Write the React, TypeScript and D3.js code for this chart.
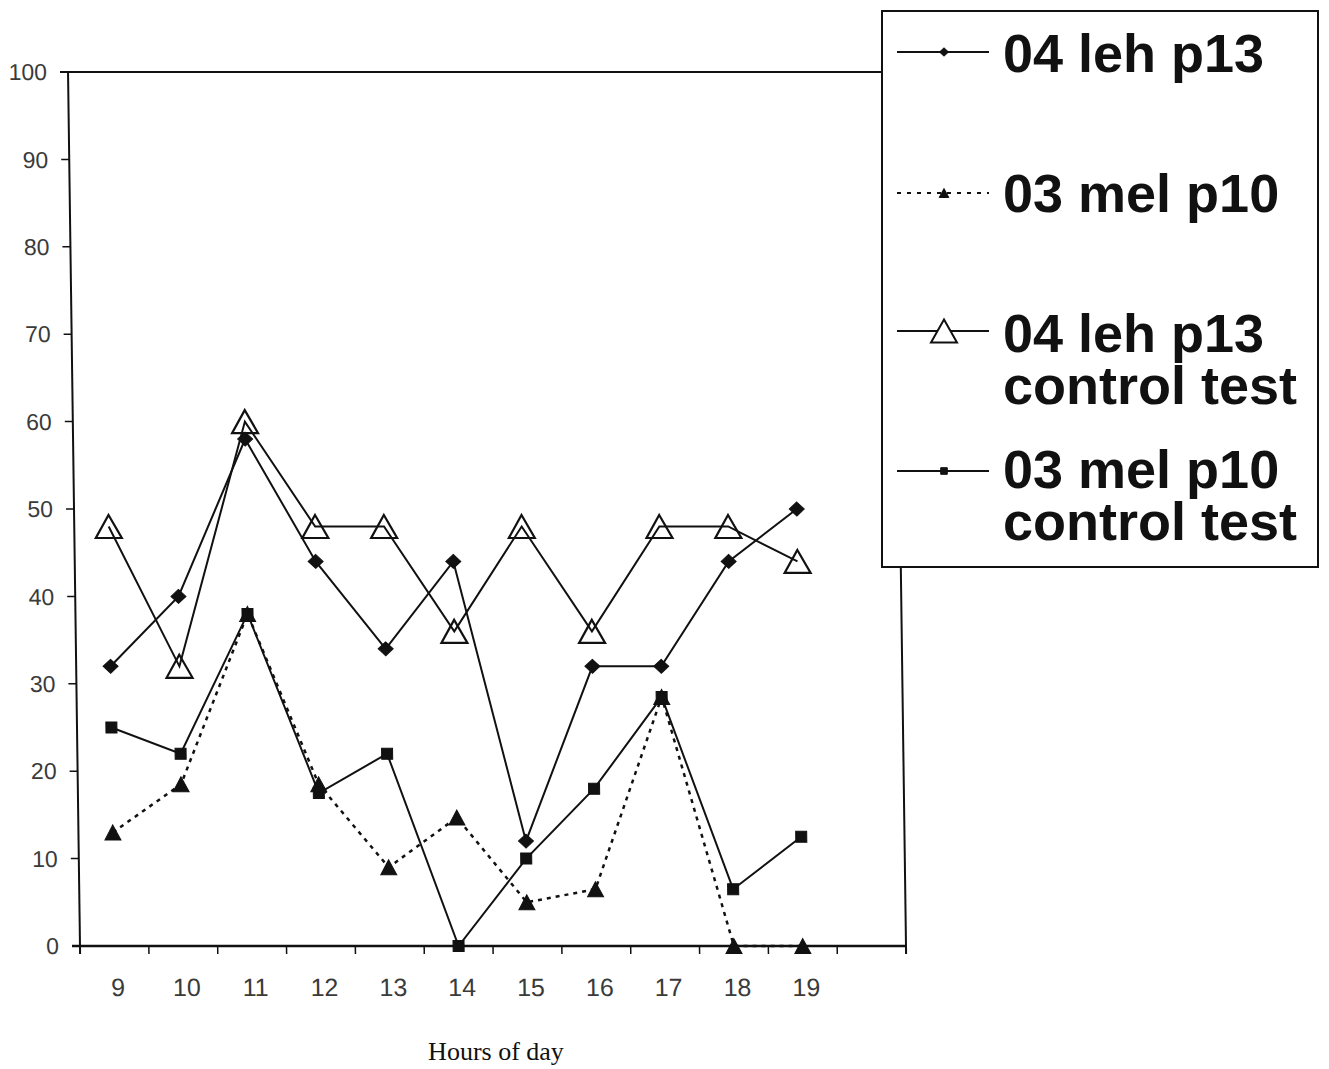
import React from "react";
import * as d3 from "d3";

// x categories (hours of day); the axis keeps one empty slot after 19
const HOURS = ["9", "10", "11", "12", "13", "14", "15", "16", "17", "18", "19"];
const AXIS_SLOTS = [...HOURS, "pad"];

// values per hour
const LEH_P13 = [32, 40, 58, 44, 34, 44, 12, 32, 32, 44, 50];
const MEL_P10 = [13, 18.5, 38, 18.5, 9, 14.7, 5, 6.5, 28.5, 0, 0];
const LEH_P13_CONTROL = [48, 32, 60, 48, 48, 36, 48, 36, 48, 48, 44];
const MEL_P10_CONTROL = [25, 22, 38, 17.5, 22, 0, 10, 18, 28.5, 6.5, 12.5];

const Y_TICKS = [0, 10, 20, 30, 40, 50, 60, 70, 80, 90, 100];

type Marker = "diamond" | "triangle" | "openTriangle" | "square";

const W = 1329;
const H = 1069;
const LEFT = 80;
const RIGHT = 906;
const TOP = 72;
const BOTTOM = 946;
const SHEAR = 0.0137; // the scanned figure leans a little to the left at the top
const INK = "#111";
const SANS = "'Liberation Sans', Arial, sans-serif";

function markerPath(kind: Marker, legend = false) {
  const s = legend ? 0.6 : 1;
  if (kind === "diamond") {
    const w = 15 * s, h = 14 * s;
    return `M0,${-h / 2}L${w / 2},0L0,${h / 2}L${-w / 2},0Z`;
  }
  if (kind === "square") {
    const a = 11 * s;
    return `M${-a / 2},${-a / 2}h${a}v${a}h${-a}Z`;
  }
  if (kind === "triangle") {
    const w = 16 * s, h = 15 * s;
    return `M0,${-h / 2}L${w / 2},${h / 2}L${-w / 2},${h / 2}Z`;
  }
  const w = 26, h = 23;
  return `M0,${-h / 2}L${w / 2},${h / 2}L${-w / 2},${h / 2}Z`;
}

const SERIES: { name: string[]; values: number[]; marker: Marker; dashed: boolean }[] = [
  { name: ["03 mel p10", "control test"], values: MEL_P10_CONTROL, marker: "square", dashed: false },
  { name: ["03 mel p10"], values: MEL_P10, marker: "triangle", dashed: true },
  { name: ["04 leh p13", "control test"], values: LEH_P13_CONTROL, marker: "openTriangle", dashed: false },
  { name: ["04 leh p13"], values: LEH_P13, marker: "diamond", dashed: false },
];

// legend order as it appears in the box
const LEGEND_ORDER = [3, 1, 2, 0];
const LEGEND_ROWS = [
  { lineY: 52, baseline: 72 },
  { lineY: 193, baseline: 212 },
  { lineY: 331, baseline: 352 },
  { lineY: 471, baseline: 488 },
];

export default function App() {
  const x = d3.scaleBand<string>().domain(AXIS_SLOTS).range([LEFT, RIGHT]);
  const y = d3.scaleLinear().domain([0, 100]).range([BOTTOM, TOP]);
  const bw = x.bandwidth();
  const cx = (i: number) => (x(HOURS[i]) ?? 0) + bw / 2;

  const line = d3
    .line<number>()
    .x((_, i) => cx(i))
    .y((d) => y(d));

  const boundaries = AXIS_SLOTS.map((s) => x(s) ?? 0).concat([RIGHT]);

  return (
    <div style={{ position: "absolute", left: 0, top: 0 }}>
      <svg width={W} height={H} style={{ display: "block", background: "#fff" }}>
        <rect width={W} height={H} fill="#fff" />
        <g transform={`matrix(1,0,${SHEAR},1,${-SHEAR * BOTTOM},0)`}>
          {/* frame */}
          <line x1={LEFT - 8} x2={RIGHT} y1={TOP} y2={TOP} stroke={INK} strokeWidth={2} />
          <line x1={RIGHT} x2={RIGHT} y1={TOP} y2={BOTTOM + 8} stroke={INK} strokeWidth={2} />
          <line x1={LEFT} x2={LEFT} y1={TOP} y2={BOTTOM + 8} stroke={INK} strokeWidth={2} />
          <line x1={LEFT - 8} x2={RIGHT} y1={BOTTOM} y2={BOTTOM} stroke={INK} strokeWidth={2.5} />

          {/* y axis */}
          {Y_TICKS.map((t) => (
            <g key={t}>
              <line x1={LEFT - 8} x2={LEFT} y1={y(t)} y2={y(t)} stroke={INK} strokeWidth={1.5} />
              <text
                x={LEFT - 21}
                y={y(t)}
                dy="0.36em"
                textAnchor="end"
                fontFamily={SANS}
                fontSize={23}
                fill="#3a3a3a"
              >
                {t}
              </text>
            </g>
          ))}

          {/* x axis */}
          {boundaries.map((b, i) => (
            <line key={i} x1={b} x2={b} y1={BOTTOM} y2={BOTTOM + 8} stroke={INK} strokeWidth={1.5} />
          ))}
          {HOURS.map((h, i) => (
            <text
              key={h}
              x={cx(i) + 3}
              y={996}
              textAnchor="middle"
              fontFamily={SANS}
              fontSize={25}
              fill="#3a3a3a"
            >
              {h}
            </text>
          ))}

          {/* series */}
          {SERIES.map((s, k) => (
            <g key={k}>
              <path
                d={line(s.values) ?? ""}
                fill="none"
                stroke={INK}
                strokeWidth={s.dashed ? 2.5 : 2}
                strokeDasharray={s.dashed ? "4 5" : undefined}
              />
              {s.values.map((v, i) => (
                <path
                  key={i}
                  transform={`translate(${cx(i)},${y(v)})`}
                  d={markerPath(s.marker)}
                  fill={s.marker === "openTriangle" ? "none" : INK}
                  stroke={INK}
                  strokeWidth={s.marker === "openTriangle" ? 2.2 : 1}
                />
              ))}
            </g>
          ))}
        </g>

        <text
          x={496}
          y={1060}
          textAnchor="middle"
          fontFamily="'Liberation Serif', 'Times New Roman', serif"
          fontSize={26}
          fill={INK}
        >
          Hours of day
        </text>

        {/* legend */}
        <rect x={882} y={11} width={436} height={556} fill="#fff" stroke={INK} strokeWidth={2} />
        {LEGEND_ORDER.map((si, r) => {
          const s = SERIES[si];
          const row = LEGEND_ROWS[r];
          return (
            <g key={si}>
              <line
                x1={897}
                x2={989}
                y1={row.lineY}
                y2={row.lineY}
                stroke={INK}
                strokeWidth={2}
                strokeDasharray={s.dashed ? "4 6" : undefined}
              />
              <path
                transform={`translate(944,${row.lineY})`}
                d={markerPath(s.marker, true)}
                fill={s.marker === "openTriangle" ? "#fff" : INK}
                stroke={INK}
                strokeWidth={s.marker === "openTriangle" ? 2 : 1}
              />
              {s.name.map((t, j) => (
                <text
                  key={j}
                  x={1003}
                  y={row.baseline + j * 52}
                  fontFamily={SANS}
                  fontWeight="bold"
                  fontSize={54}
                  fill={INK}
                >
                  {t}
                </text>
              ))}
            </g>
          );
        })}
      </svg>
    </div>
  );
}
